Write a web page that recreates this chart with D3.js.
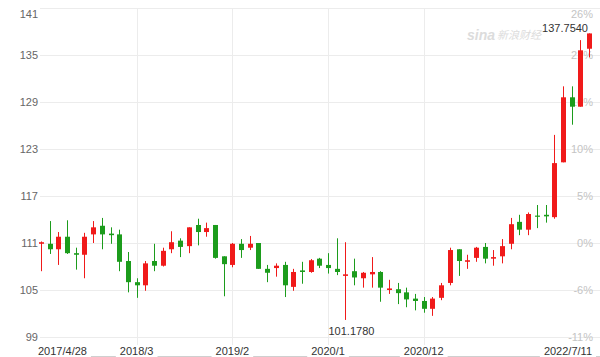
<!DOCTYPE html>
<html><head><meta charset="utf-8">
<script src="https://cdn.jsdelivr.net/npm/d3@7/dist/d3.min.js"></script>
<style>body{margin:0;background:#fff;}svg{display:block;font-family:"Liberation Sans",Arial,sans-serif;}</style>
</head><body>
<svg id="c" width="600" height="357"></svg>
<script>
const months = [];
(function(){ let y=2017,m=4; for(let i=0;i<64;i++){ months.push(y+"/"+m); m++; if(m>12){m=1;y++;} } })();
const open  = [110.9,110.9,110.2,111.8,109.7,109.5,112.1,113.2,112.2,112.1,108.7,106.0,105.6,108.7,108.1,110.2,111.3,110.6,113.3,112.4,113.3,109.3,108.2,110.9,110.4,111.0,107.7,107.8,108.2,105.4,107.5,107.3,109.0,108.2,107.7,106.8,107.4,106.5,107.0,107.3,105.0,105.1,104.7,103.9,103.6,102.6,104.0,105.9,110.2,108.6,109.1,110.5,109.0,109.3,110.9,113.7,112.7,114.5,114.6,114.3,121.3,129.6,128.4,135.8];
const high  = [111.2,113.8,112.4,113.9,110.4,112.3,113.8,114.2,113.0,112.7,109.85,106.5,108.7,110.9,110.4,112.5,111.6,113.0,114.1,113.6,113.3,109.3,111.0,111.5,111.9,111.0,108.2,108.4,108.6,107.7,108.6,108.95,109.1,109.7,111.6,111.1,109.0,107.3,109.2,107.4,106.3,105.9,105.3,104.5,104.1,104.1,105.9,110.4,110.2,109.5,110.5,111.0,110.1,111.5,114.2,114.6,114.9,115.85,115.85,124.8,131.0,131.0,136.9,137.754];
const low   = [107.4,109.6,108.2,109.6,107.6,106.5,111.0,110.2,110.9,107.4,104.7,104.0,104.9,107.4,108.0,109.7,109.2,109.7,110.7,111.8,109.0,104.2,107.9,109.1,110.1,107.7,106.0,106.7,104.1,104.9,105.8,107.2,107.8,107.1,106.9,101.178,105.6,105.3,105.3,103.5,104.5,103.2,102.8,102.4,102.1,101.7,103.7,105.6,106.8,107.7,108.6,108.4,108.1,108.4,110.2,112.0,112.0,112.9,113.6,114.1,121.3,126.1,128.4,134.7];
const close = [111.1,110.2,111.8,109.7,109.5,111.8,113.0,112.1,112.0,108.6,106.0,105.6,108.4,108.1,110.0,111.1,110.5,113.0,112.4,112.9,109.1,108.3,110.9,110.1,110.9,107.7,107.2,108.1,105.6,107.3,107.3,108.8,108.1,107.8,107.3,107.0,106.6,107.2,107.3,105.3,105.2,104.6,103.8,103.6,102.6,103.9,105.6,110.1,108.7,108.8,110.4,109.0,109.2,110.6,113.4,112.7,114.7,114.4,114.4,121.2,129.6,128.4,135.6,137.754];
const yTicks = [141,135,129,123,117,111,105,99];
const pctLabels = ["26%","21%","16%","10%","5%","0%","-6%","-11%"];
const xTickMonths = ["2018/3","2019/2","2020/1","2020/12"];
const xTickLabels = ["2018/3","2019/2","2020/1","2020/12"];
const firstLabel = "2017/4/28", lastLabel = "2022/7/11";
const minLabel = "101.1780", maxLabel = "137.7540";

const svg = d3.select("#c");
const x = d3.scalePoint().domain(months).range([41, 589]);
const y = d3.scaleLinear().domain([99, 141]).range([337, 8]);

// grid
svg.append("g").selectAll("line").data(yTicks).join("line")
  .attr("x1", 40).attr("x2", 600).attr("y1", d => Math.round(y(d))+0.5).attr("y2", d => Math.round(y(d))+0.5)
  .attr("stroke", "#ececec");
svg.append("g").selectAll("line").data(xTickMonths).join("line")
  .attr("x1", d => Math.round(x(d))+0.5).attr("x2", d => Math.round(x(d))+0.5).attr("y1", 8).attr("y2", 345)
  .attr("stroke", "#ececec");

// left labels
svg.append("g").selectAll("text").data(yTicks).join("text")
  .attr("x", 38).attr("y", d => Math.max(y(d), 14)).attr("dy", "0.35em")
  .attr("text-anchor", "end").attr("font-size", 11).attr("fill", "#666").text(d => d);
// right labels
svg.append("g").selectAll("text").data(yTicks).join("text")
  .attr("x", 593).attr("y", d => Math.max(y(d), 14)).attr("dy", "0.35em")
  .attr("text-anchor", "end").attr("font-size", 11).attr("fill", "#c4c4c4").text((d,i) => pctLabels[i]);

// watermark
const wm = svg.append("g").attr("fill", "#dcdcdc");
wm.append("text").attr("x", 467).attr("y", 40).attr("font-size", 14).attr("font-style", "italic").attr("font-weight", "bold").text("sina");
wm.append("text").attr("x", 497).attr("y", 39).attr("font-size", 11).attr("font-style", "italic").attr("font-family", "Noto Sans CJK SC").text("新浪财经");

// bottom line + labels
svg.append("line").attr("x1", 40).attr("x2", 600).attr("y1", 356.5).attr("y2", 356.5).attr("stroke", "#cfcfcf");
const bl = svg.append("g").attr("font-size", 11).attr("fill", "#333");
function blabel(tx, anchor, text){
  const t = bl.append("text").attr("x", tx).attr("y", 355).attr("text-anchor", anchor).text(text);
  const bb = t.node().getBBox();
  bl.insert("rect", "text").attr("x", bb.x-4).attr("y", bb.y).attr("width", bb.width+8).attr("height", 357-bb.y).attr("fill", "#fff");
}
blabel(38, "start", firstLabel);
xTickMonths.forEach((m,i) => blabel(x(m), "middle", xTickLabels[i]));
blabel(592, "end", lastLabel);

// candles
const red = "#f01a1a", green = "#1c9c1c";
const idx = d3.range(months.length);
const cg = svg.append("g");
cg.selectAll("line").data(idx).join("line")
  .attr("x1", i => Math.round(x(months[i]))+0.5).attr("x2", i => Math.round(x(months[i]))+0.5)
  .attr("y1", i => y(high[i])).attr("y2", i => y(low[i]))
  .attr("stroke", i => close[i] >= open[i] ? red : green).attr("stroke-width", 1);
cg.selectAll("rect").data(idx).join("rect")
  .attr("x", i => Math.round(x(months[i])) - 2)
  .attr("width", 5)
  .attr("y", i => y(Math.max(open[i], close[i])))
  .attr("height", i => Math.max(1.2, Math.abs(y(open[i]) - y(close[i]))))
  .attr("fill", i => close[i] >= open[i] ? red : green);

// min / max annotations
const iMin = d3.minIndex(low), iMax = d3.maxIndex(high);
svg.append("text").attr("x", x(months[iMin]) + 6).attr("y", y(low[iMin]) + 15)
  .attr("text-anchor", "middle").attr("font-size", 11).attr("fill", "#333").text(minLabel);
svg.append("text").attr("x", x(months[iMax]) - 1).attr("y", y(high[iMax]) - 1)
  .attr("text-anchor", "end").attr("font-size", 11).attr("fill", "#333").text(maxLabel);
</script>
</body></html>
